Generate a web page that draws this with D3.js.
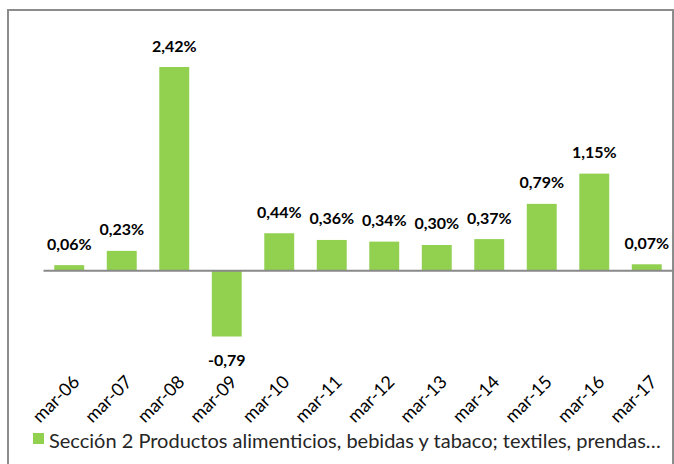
<!DOCTYPE html>
<html>
<head>
<meta charset="utf-8">
<script src="https://cdn.jsdelivr.net/npm/d3@7"></script>
<style>
  body { margin: 0; background: #fff; }
  svg text { font-family: Lato, "Open Sans", sans-serif; }
</style>
</head>
<body>
<div id="chart"></div>
<script>
// Data
var categories = ["mar-06", "mar-07", "mar-08", "mar-09", "mar-10", "mar-11",
                  "mar-12", "mar-13", "mar-14", "mar-15", "mar-16", "mar-17"];
var values = [0.06, 0.23, 2.42, -0.79, 0.44, 0.36, 0.34, 0.30, 0.37, 0.79, 1.15, 0.07];
var valueLabels = ["0,06%", "0,23%", "2,42%", "-0,79", "0,44%", "0,36%",
                   "0,34%", "0,30%", "0,37%", "0,79%", "1,15%", "0,07%"];
var seriesName = "Sección 2 Productos alimenticios, bebidas y tabaco; textiles, prendas…";

var W = 674, H = 464,
    barColor = "#92d050",
    axisColor = "#898989",
    textColor = "#000";

var svg = d3.select("#chart").append("svg")
  .attr("width", W)
  .attr("height", H);

// chart frame (runs off the right and bottom edge)
svg.append("rect")
  .attr("x", 8)
  .attr("y", 10)
  .attr("width", 665)
  .attr("height", 480)
  .attr("fill", "none")
  .attr("stroke", "#8c8c8c")
  .attr("stroke-width", 2);

// Scales
var xScale = d3.scaleBand()
  .domain(categories)
  .range([43, 673])
  .paddingInner(0.43)
  .paddingOuter(0.215);

var yScale = d3.scaleLinear()
  .domain([-0.79, 2.42])
  .range([336.5, 67]);

// Bars
svg.append("g")
  .selectAll("rect")
  .data(values)
  .enter().append("rect")
    .attr("x", function(d, i) { return xScale(categories[i]); })
    .attr("y", function(d) { return yScale(Math.max(0, d)); })
    .attr("width", xScale.bandwidth())
    .attr("height", function(d) { return Math.abs(yScale(d) - yScale(0)); })
    .attr("fill", barColor);

// Zero axis
svg.append("g")
  .attr("transform", "translate(0," + yScale(0) + ")")
  .call(d3.axisBottom(xScale).tickSize(0).tickSizeOuter(0).tickFormat(""))
  .call(function(g) {
    g.select(".domain").attr("stroke", axisColor).attr("stroke-width", 2);
  });

// Value labels
svg.append("g")
  .selectAll("text")
  .data(values)
  .enter().append("text")
    .attr("x", function(d, i) { return xScale(categories[i]) + xScale.bandwidth() / 2; })
    .attr("y", function(d) { return d >= 0 ? yScale(d) - 15.5 : yScale(d) + 29.5; })
    .attr("text-anchor", "middle")
    .attr("font-size", "16px")
    .attr("font-weight", "bold")
    .attr("fill", textColor)
    .text(function(d, i) { return valueLabels[i]; });

// Category labels, rotated
svg.append("g")
  .selectAll("text")
  .data(categories)
  .enter().append("text")
    .attr("transform", function(d) {
      var x = xScale(d) + xScale.bandwidth() / 2 + 11.5;
      return "translate(" + x + ",383) rotate(-45)";
    })
    .attr("text-anchor", "end")
    .attr("font-size", "18px")
    .attr("fill", "#000")
    .text(function(d) { return d; });

// Legend
var legend = svg.append("g").attr("transform", "translate(33,433)");
legend.append("rect")
  .attr("width", 11)
  .attr("height", 11)
  .attr("fill", barColor);
legend.append("text")
  .attr("x", 16)
  .attr("y", 15)
  .attr("font-size", "20px")
  .attr("fill", "#262626")
  .text(seriesName);
</script>
</body>
</html>
